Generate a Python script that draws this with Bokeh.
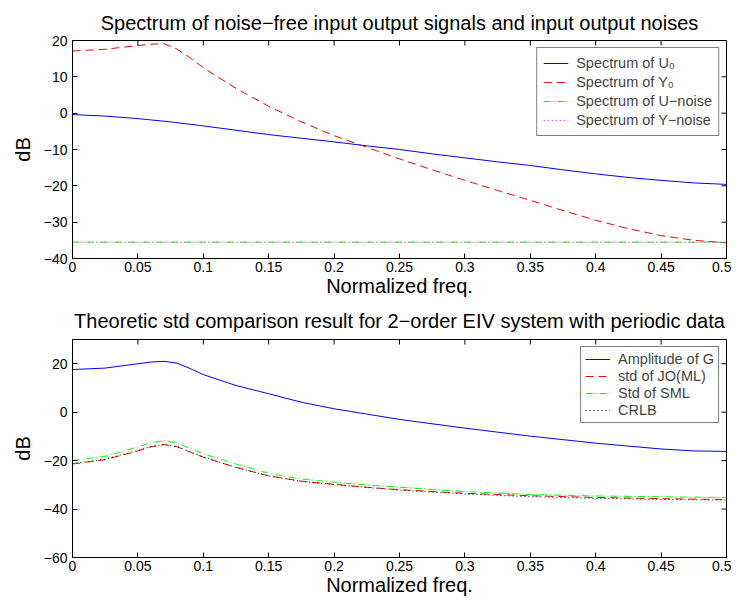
import math
from bokeh.plotting import figure
from bokeh.models import Range1d, FixedTicker, Legend, LegendItem
from bokeh.layouts import column
from bokeh.embed import file_html
from bokeh.resources import INLINE

# ---------------- data ----------------
# top panel
f_u0 = [0, 0.025, 0.05, 0.075, 0.1, 0.125, 0.15, 0.175, 0.2, 0.225, 0.25,
        0.275, 0.3, 0.325, 0.35, 0.375, 0.4, 0.425, 0.45, 0.475, 0.5]
spec_u0 = [-0.4, -0.8, -1.5, -2.4, -3.5, -4.7, -5.9, -6.9, -7.9, -9.0, -10.0,
           -11.2, -12.3, -13.4, -14.4, -15.6, -16.7, -17.7, -18.5, -19.2, -19.6]

f_y0 = [0, 0.025, 0.05, 0.06, 0.07, 0.08, 0.09, 0.1, 0.125, 0.15, 0.175, 0.2,
        0.225, 0.25, 0.275, 0.3, 0.325, 0.35, 0.375, 0.4, 0.425, 0.45, 0.475, 0.5]
spec_y0 = [17.1, 17.6, 18.6, 19.0, 19.1, 17.6, 15.2, 12.5, 6.8, 1.9, -2.4, -6.2,
           -9.4, -12.6, -15.6, -18.5, -21.3, -24.0, -26.8, -29.5, -31.8, -33.7, -35.0, -35.7]

f_noise = [0, 0.1, 0.2, 0.3, 0.4, 0.5]
spec_u_noise = [-35.5, -35.5, -35.5, -35.5, -35.5, -35.5]
spec_y_noise = [-35.5, -35.5, -35.5, -35.5, -35.5, -35.5]

# bottom panel
f_b = [0, 0.025, 0.05, 0.06, 0.07, 0.08, 0.09, 0.1, 0.125, 0.15, 0.175, 0.2,
       0.225, 0.25, 0.3, 0.35, 0.4, 0.45, 0.475, 0.5]
amp_g = [17.6, 18.2, 20.0, 20.7, 21.0, 20.2, 18.0, 15.5, 11.0, 7.6, 4.1, 1.4,
         -0.8, -3.0, -6.6, -9.9, -12.8, -15.2, -16.0, -16.2]
std_jo = [-21.4, -19.6, -16.0, -14.3, -13.4, -14.3, -16.5, -18.6, -22.8, -26.3, -28.5, -29.8,
          -31.0, -32.0, -33.5, -34.5, -35.2, -35.7, -35.9, -36.0]
std_sml = [-20.0, -18.2, -14.3, -12.6, -11.8, -12.8, -15.0, -17.2, -21.4, -25.3, -27.6, -28.9,
           -30.1, -31.0, -32.8, -34.0, -34.6, -34.9, -35.1, -35.2]
crlb = [-21.2, -19.4, -15.8, -14.2, -13.3, -14.2, -16.4, -18.5, -22.8, -26.3, -28.6, -29.9,
        -31.1, -32.2, -33.8, -34.9, -35.6, -36.0, -36.2, -36.3]

x_lim = (0, 0.5)
y_lim_top = (-40, 20)
y_lim_bot = (-60, 30)
x_ticks = [0, 0.05, 0.1, 0.15, 0.2, 0.25, 0.3, 0.35, 0.4, 0.45, 0.5]
x_tick_labels = ["0", "0.05", "0.1", "0.15", "0.2", "0.25", "0.3", "0.35", "0.4", "0.45", "0.5"]
y_ticks_top = [-40, -30, -20, -10, 0, 10, 20]
y_ticks_bot = [-60, -40, -20, 0, 20]

title_top = "Spectrum of noise\u2212free input output signals and input output noises"
title_bot = "Theoretic std comparison result for 2\u2212order EIV system with periodic data"

FONT = "Liberation Sans"


def ylab(v):
    return str(v).replace("-", "\u2212")


def style(p, yticks, ylim, title_standoff):
    p.xaxis.ticker = FixedTicker(ticks=x_ticks)
    p.yaxis.ticker = FixedTicker(ticks=yticks)
    p.xaxis.major_label_overrides = {t: s for t, s in zip(x_ticks, x_tick_labels)}
    p.yaxis.major_label_overrides = {t: ylab(t) for t in yticks}
    for ax in (p.xaxis[0], p.yaxis[0]):
        ax.major_tick_in = 5
        ax.major_tick_out = 0
        ax.minor_tick_line_color = None
        ax.axis_line_color = "black"
        ax.major_tick_line_color = "black"
        ax.major_label_text_font = FONT
        ax.major_label_text_font_size = "14px"
        ax.major_label_text_color = "black"
        ax.axis_label_text_font = FONT
        ax.axis_label_text_font_size = "20px"
        ax.axis_label_text_font_style = "normal"
        ax.axis_label_text_color = "black"
    p.xaxis.major_label_standoff = 3
    p.yaxis.major_label_standoff = 5
    p.xaxis.axis_label_standoff = 0
    p.yaxis.axis_label_standoff = 7
    # inward tick marks on the top and right edges of the box (MATLAB style)
    p.ray(x=x_ticks, y=[ylim[1]] * len(x_ticks), length=5, length_units="screen",
          angle=-math.pi / 2, line_color="black", line_width=1)
    p.ray(x=[x_lim[1]] * len(yticks), y=yticks, length=5, length_units="screen",
          angle=math.pi, line_color="black", line_width=1)
    p.xgrid.grid_line_color = None
    p.ygrid.grid_line_color = None
    p.outline_line_color = "black"
    p.title.text_font = FONT
    p.title.text_font_size = "20px"
    p.title.text_font_style = "normal"
    p.title.align = "center"
    p.title.offset = 6
    p.title.text_color = "black"
    p.title.standoff = title_standoff


def make_legend(p, items, label_height, padding):
    lg = Legend(items=items, location="top_right")
    lg.border_line_color = "black"
    lg.border_line_width = 1
    lg.background_fill_alpha = 1
    lg.label_text_font = FONT
    lg.label_text_font_size = "14.5px"
    lg.glyph_width = 25
    lg.glyph_height = label_height
    lg.label_height = label_height
    lg.spacing = 1
    lg.padding = padding
    lg.label_standoff = 8
    lg.margin = 7
    p.add_layout(lg, "center")


# ---------------- top figure ----------------
p1 = figure(frame_width=654, frame_height=218, min_border_left=72, min_border_right=5,
            min_border_top=40, min_border_bottom=38, output_backend="svg",
            toolbar_location=None, x_range=Range1d(*x_lim), y_range=Range1d(*y_lim_top),
            title=title_top, x_axis_label="Normalized freq.", y_axis_label="dB")
r1 = p1.line(f_u0, spec_u0, line_color="#0000ff", line_width=1)
r2 = p1.line(f_y0, spec_y0, line_color="#ff0000", line_width=1, line_dash="8 5")
r3 = p1.line(f_noise, spec_u_noise, line_color="#00ff00", line_width=1, line_dash="7 3 1 3")
r4 = p1.line(f_noise, spec_y_noise, line_color="#ff00ff", line_width=1, line_dash="1 3")
style(p1, y_ticks_top, y_lim_top, 14)
make_legend(p1, [LegendItem(label="Spectrum of U\u2080", renderers=[r1]),
                 LegendItem(label="Spectrum of Y\u2080", renderers=[r2]),
                 LegendItem(label="Spectrum of U\u2212noise", renderers=[r3]),
                 LegendItem(label="Spectrum of Y\u2212noise", renderers=[r4])], 18, 6)

# ---------------- bottom figure ----------------
p2 = figure(frame_width=654, frame_height=218, min_border_left=72, min_border_right=5,
            min_border_top=40, min_border_bottom=37, output_backend="svg",
            toolbar_location=None, x_range=Range1d(*x_lim), y_range=Range1d(*y_lim_bot),
            title=title_bot, x_axis_label="Normalized freq.", y_axis_label="dB")
q1 = p2.line(f_b, amp_g, line_color="#0000ff", line_width=1)
q2 = p2.line(f_b, std_jo, line_color="#ff0000", line_width=1, line_dash="8 5")
q3 = p2.line(f_b, std_sml, line_color="#00ff00", line_width=1, line_dash="7 3 1 3")
q4 = p2.line(f_b, crlb, line_color="black", line_width=1, line_dash="1 3")
style(p2, y_ticks_bot, y_lim_bot, 16)
make_legend(p2, [LegendItem(label="Amplitude of G", renderers=[q1]),
                 LegendItem(label="std of JO(ML)", renderers=[q2]),
                 LegendItem(label="Std of SML", renderers=[q3]),
                 LegendItem(label="CRLB", renderers=[q4])], 16, 4)

layout = column(p1, p2, spacing=0)
open("out.html", "w").write(file_html(layout, INLINE))
